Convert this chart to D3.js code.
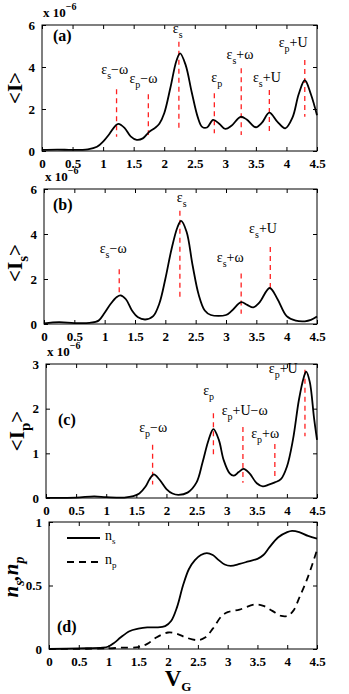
<!DOCTYPE html>
<html>
<head>
<meta charset="utf-8">
<script src="https://cdn.jsdelivr.net/npm/d3@7"></script>
<style>
  body { margin: 0; background: #fff; }
  svg { display: block; }
  text { font-family: "Liberation Serif", "DejaVu Serif", serif; }
</style>
</head>
<body>
<svg id="fig" width="349" height="694"></svg>
<script>
// x grid shared by every panel
var xTicks = [0, 0.5, 1, 1.5, 2, 2.5, 3, 3.5, 4, 4.5];

// (a) total current <I>, units of 1e-6
var curA = [[0,0.05],[0.25,0.07],[0.5,0.05],[0.75,0.08],[0.9,0.2],[1.0,0.45],[1.1,0.8],[1.2,1.2],[1.25,1.29],
  [1.35,1.1],[1.45,0.7],[1.55,0.53],[1.65,0.6],[1.75,0.9],[1.85,1.1],[1.92,1.3],[2.0,1.8],[2.1,3.0],[2.2,4.3],
  [2.26,4.65],[2.35,4.1],[2.45,2.8],[2.55,1.6],[2.62,1.15],[2.7,1.12],[2.8,1.48],[2.9,1.3],[3.0,1.05],[3.1,1.2],
  [3.25,1.63],[3.35,1.5],[3.5,1.13],[3.6,1.35],[3.72,1.83],[3.85,1.4],[3.98,1.08],[4.1,1.6],[4.2,2.7],[4.3,3.37],
  [4.4,2.7],[4.5,1.7]];
// (b) <I_s>
var curB = [[0,0.03],[0.25,0.08],[0.5,0.04],[0.75,0.05],[0.9,0.15],[1.0,0.5],[1.1,0.9],[1.2,1.2],[1.26,1.27],
  [1.35,1.1],[1.45,0.6],[1.55,0.3],[1.67,0.2],[1.8,0.35],[1.9,0.9],[2.0,2.0],[2.1,3.3],[2.2,4.3],[2.26,4.58],
  [2.35,4.1],[2.45,2.6],[2.55,1.3],[2.65,0.6],[2.75,0.4],[3.0,0.4],[3.1,0.6],[3.25,0.97],[3.35,0.85],[3.45,0.74],
  [3.55,0.95],[3.72,1.6],[3.85,1.1],[4.0,0.35],[4.15,0.15],[4.3,0.12],[4.4,0.18],[4.5,0.33]];
// (c) <I_p>
var curC = [[0,0.005],[0.5,0.01],[0.8,0.035],[1.0,0.02],[1.3,0.01],[1.45,0.04],[1.55,0.1],[1.65,0.25],[1.72,0.42],
  [1.79,0.53],[1.88,0.42],[2.0,0.2],[2.1,0.1],[2.2,0.07],[2.35,0.12],[2.5,0.35],[2.6,0.8],[2.7,1.3],[2.78,1.54],
  [2.87,1.3],[2.95,0.85],[3.05,0.55],[3.12,0.5],[3.2,0.58],[3.28,0.65],[3.38,0.55],[3.5,0.33],[3.6,0.26],[3.7,0.3],
  [3.8,0.35],[3.9,0.42],[4.0,0.7],[4.1,1.3],[4.2,2.2],[4.28,2.7],[4.32,2.83],[4.38,2.6],[4.45,1.8],[4.5,1.3]];
// (d) occupations
var occS = [[0,0],[0.5,0.005],[0.9,0.01],[1.0,0.02],[1.1,0.05],[1.2,0.09],[1.35,0.14],[1.5,0.16],[1.65,0.17],
  [1.8,0.17],[1.95,0.18],[2.05,0.22],[2.15,0.33],[2.25,0.5],[2.35,0.63],[2.45,0.7],[2.55,0.74],[2.65,0.755],
  [2.75,0.74],[2.85,0.7],[2.95,0.665],[3.05,0.655],[3.2,0.67],[3.35,0.69],[3.5,0.71],[3.6,0.74],[3.7,0.8],
  [3.85,0.88],[4.0,0.92],[4.08,0.93],[4.2,0.92],[4.35,0.89],[4.5,0.87]];
var occP = [[0,0],[1.0,0.005],[1.2,0.01],[1.5,0.015],[1.65,0.04],[1.8,0.09],[2.0,0.13],[2.15,0.12],[2.3,0.09],
  [2.5,0.07],[2.62,0.09],[2.75,0.16],[2.9,0.26],[3.0,0.29],[3.2,0.31],[3.45,0.35],[3.6,0.34],[3.75,0.3],
  [3.9,0.26],[4.0,0.26],[4.1,0.3],[4.2,0.4],[4.35,0.57],[4.5,0.78]];

// resonance markers: [sub, suffix, x, yTop, yBottom, labelX, labelY]
var marksA = [["s","\u2212\u03c9",1.22,2.94,0.68,1.19,3.67],["p","\u2212\u03c9",1.74,2.7,0.76,1.66,3.22],
  ["s","",2.24,5.2,0.92,2.22,5.6],["p","",2.82,2.75,0.84,2.86,3.3],["s","+\u03c9",3.26,3.94,0.76,3.24,4.37],
  ["s","+U",3.72,2.9,0.92,3.68,3.3],["p","+U",4.3,4.33,1.63,4.11,4.97]];
var marksB = [["s","\u2212\u03c9",1.24,2.43,1.31,1.14,3.14],["s","",2.24,5.03,1.16,2.27,5.44],
  ["s","+\u03c9",3.25,2.25,0.46,3.07,2.77],["s","+U",3.73,3.42,1.5,3.61,4.03]];
var marksC = [["p","\u2212\u03c9",1.77,1.19,0.3,1.78,1.48],["p","",2.78,1.9,0.93,2.7,2.31],
  ["p","+U\u2212\u03c9",3.27,1.59,0.34,3.3,1.86],["p","+\u03c9",3.8,1.21,0.48,3.64,1.34],
  ["p","+U",4.3,2.87,1.38,3.94,2.79]];

var svg = d3.select("#fig");
var right = 317;

function subText(g, x, y, parts, size, anchor, weight, style) {
  var t = g.append("text").attr("x", x).attr("y", y)
    .attr("font-size", size).attr("text-anchor", anchor || "start")
    .attr("font-weight", weight || "normal").attr("font-style", style || "normal");
  parts.forEach(function (p) {
    var s = t.append("tspan").text(p.t);
    if (p.dy) s.attr("dy", p.dy);
    if (p.fs) s.attr("font-size", p.fs);
  });
  return t;
}

function panel(o) {
  var x = d3.scaleLinear().domain([0, 4.5]).range([o.left, right]);
  var y = d3.scaleLinear().domain([0, o.ymax]).range([o.bottom, o.top]);
  var g = svg.append("g");

  g.append("rect").attr("x", o.left).attr("y", o.top)
    .attr("width", right - o.left).attr("height", o.bottom - o.top)
    .attr("fill", "none").attr("stroke", "#000").attr("stroke-width", 1);

  g.append("g").attr("transform", "translate(0," + o.bottom + ")")
    .call(d3.axisBottom(x).tickValues(xTicks).tickSize(-4).tickPadding(8).tickFormat(d3.format("")));
  g.append("g").attr("transform", "translate(0," + o.top + ")")
    .call(d3.axisTop(x).tickValues(xTicks).tickSize(-4).tickFormat(""));
  g.append("g").attr("transform", "translate(" + o.left + ",0)")
    .call(d3.axisLeft(y).tickValues(o.yticks).tickSize(-4).tickPadding(7).tickFormat(d3.format("")));
  g.append("g").attr("transform", "translate(" + right + ",0)")
    .call(d3.axisRight(y).tickValues(o.yticks).tickSize(-4).tickFormat(""));
  g.selectAll(".domain").remove();
  g.selectAll(".tick line").attr("stroke", "#000");
  g.selectAll(".tick text").attr("fill", "#000")
    .attr("font-family", "Liberation Serif, serif").attr("font-weight", "bold").attr("font-size", 13);

  var line = d3.line().x(function (d) { return x(d[0]); }).y(function (d) { return y(d[1]); })
    .curve(d3.curveCatmullRom.alpha(0.5));

  (o.marks || []).forEach(function (m) {
    g.append("line").attr("x1", x(m[2])).attr("x2", x(m[2]))
      .attr("y1", y(m[3])).attr("y2", y(m[4]))
      .attr("stroke", "#ff2020").attr("stroke-width", 1.3).attr("stroke-dasharray", "5,4");
    subText(g, x(m[5]), y(m[6]), [{t: "\u03b5"}, {t: m[0], dy: 5, fs: 10}, {t: m[1], dy: -5}], 14, "middle");
  });

  o.series.forEach(function (s) {
    g.append("path").datum(s.data).attr("d", line).attr("fill", "none")
      .attr("stroke", "#000").attr("stroke-width", 1.8)
      .attr("stroke-dasharray", s.dash || null);
  });

  g.append("text").attr("x", o.lx).attr("y", o.ly).attr("font-size", 16)
    .attr("font-weight", "bold").text("(" + o.key + ")");
  if (o.exp) {
    subText(g, o.left + 1, o.top - 8, [{t: "x 10"}, {t: "\u22126", dy: -7, fs: 10}], 13, "start", "bold");
  }
  return g;
}

panel({key: "a", left: 42, top: 25, bottom: 151, ymax: 6, yticks: [0, 2, 4, 6], exp: true,
  lx: 53, ly: 41, marks: marksA, series: [{data: curA}]});
panel({key: "b", left: 44, top: 189, bottom: 324, ymax: 6, yticks: [0, 2, 4, 6], exp: true,
  lx: 53, ly: 210, marks: marksB, series: [{data: curB}]});
panel({key: "c", left: 46, top: 364, bottom: 498, ymax: 3, yticks: [0, 1, 2, 3], exp: true,
  lx: 58, ly: 425, marks: marksC, series: [{data: curC}]});
panel({key: "d", left: 49, top: 522, bottom: 649, ymax: 1, yticks: [0, 0.5, 1],
  lx: 57, ly: 632, series: [{data: occS}, {data: occP, dash: "7,5"}]});

// legend in (d)
var lg = svg.append("g");
lg.append("line").attr("x1", 67).attr("x2", 100).attr("y1", 538).attr("y2", 538).attr("stroke", "#000").attr("stroke-width", 1.8);
lg.append("line").attr("x1", 67).attr("x2", 100).attr("y1", 562).attr("y2", 562).attr("stroke", "#000").attr("stroke-width", 1.8).attr("stroke-dasharray", "7,5");
subText(lg, 105, 540, [{t: "n"}, {t: "s", dy: 4, fs: 9}], 14, "start");
subText(lg, 105, 564, [{t: "n"}, {t: "p", dy: 4, fs: 9}], 14, "start");

// y labels
function ylab(cx, cy, parts, size, style) {
  var g = svg.append("g").attr("transform", "translate(" + cx + "," + cy + ") rotate(-90)");
  subText(g, 0, 0, parts, size, "middle", "bold", style);
}
ylab(22, 88, [{t: "<I>"}], 21);
ylab(22, 263, [{t: "<I"}, {t: "s", dy: 6, fs: 15}, {t: ">", dy: -6}], 21);
ylab(24, 431, [{t: "<I"}, {t: "p", dy: 6, fs: 15}, {t: ">", dy: -6}], 21);
ylab(18, 577, [{t: "n"}, {t: "s", dy: 6, fs: 14}, {t: ",n", dy: -6}, {t: "p", dy: 6, fs: 14}], 21, "italic");

// x label
subText(svg, 178, 686, [{t: "V"}, {t: "G", dy: 5, fs: 13}], 23, "middle", "bold");
</script>
</body>
</html>
